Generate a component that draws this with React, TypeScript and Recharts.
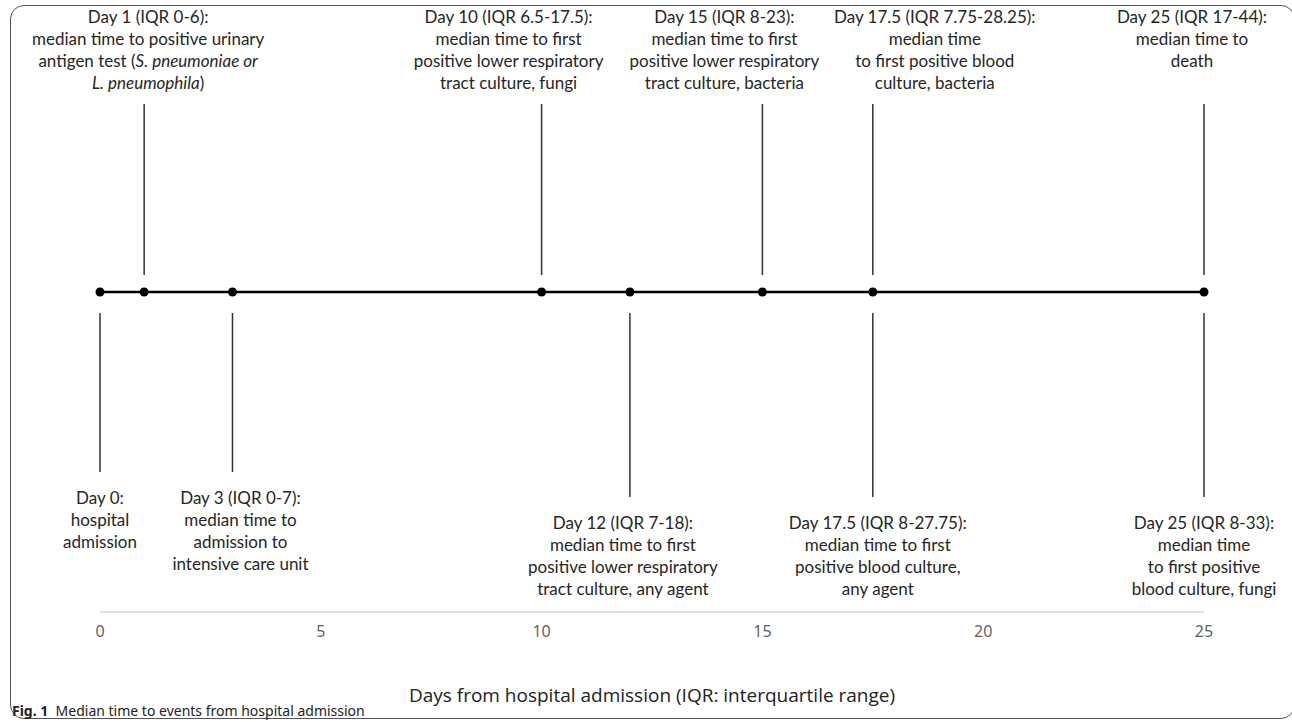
import React from 'react';
import { ScatterChart, Scatter, XAxis, YAxis } from 'recharts';

// timeline events (day from admission), which side the label sits on, and label text
// *...* marks italic text
const EVENT_DAYS = [0, 1, 3, 10, 12, 15, 17.5, 17.5, 25, 25];
const EVENT_SIDE = ['below', 'above', 'below', 'above', 'below', 'above', 'above', 'below', 'above', 'below'];
const EVENT_LABELS = [
    ['Day 0:', 'hospital', 'admission'],
    ['Day 1 (IQR 0-6):', 'median time to positive urinary', 'antigen test (*S. pneumoniae  or*', '*L.  pneumophila*)'],
    ['Day 3 (IQR 0-7):', 'median time to', 'admission to', 'intensive care unit'],
    ['Day 10 (IQR 6.5-17.5):', 'median time to first', 'positive lower respiratory', 'tract culture, fungi'],
    ['Day 12 (IQR 7-18):', 'median time to first', 'positive lower respiratory', 'tract culture, any agent'],
    ['Day 15 (IQR 8-23):', 'median time to first', 'positive lower respiratory', 'tract culture, bacteria'],
    ['Day 17.5 (IQR 7.75-28.25):', 'median time', 'to first positive blood', 'culture, bacteria'],
    ['Day 17.5 (IQR 8-27.75):', 'median time to first', 'positive blood culture,', 'any agent'],
    ['Day 25 (IQR 17-44):', 'median time to', 'death'],
    ['Day 25 (IQR 8-33):', 'median time', 'to first positive', 'blood culture, fungi'],
];
const TIMELINE_DAYS = [0, 1, 3, 10, 12, 15, 17.5, 25];
const X_TICKS = [0, 5, 10, 15, 20, 25];
const X_TITLE = 'Days from hospital admission (IQR: interquartile range)';

// layout only: label boxes placed lower / nudged sideways as in the figure
const FAR_BELOW = [false, false, false, false, true, false, false, true, false, true];
const LABEL_DX = [0, 4, 8, -33, -7, -38, 62, 5, -12, 0];

const timelineData = TIMELINE_DAYS.map((d) => ({ x: d, y: 0 }));
const eventData = EVENT_DAYS.map((d, i) => ({
    x: d,
    y: 0,
    side: EVENT_SIDE[i],
    lines: EVENT_LABELS[i],
    far: FAR_BELOW[i],
    dx: LABEL_DX[i],
}));

const LINE_H = 22;
const TEXT_COLOR = '#262626';

const renderSegments = (line: string) =>
    line.split('*').map((part, k) =>
        k % 2 === 1 ? (
            <tspan key={k} fontStyle="italic">{part}</tspan>
        ) : (
            <tspan key={k}>{part}</tspan>
        )
    );

const EventMark = (props: any) => {
    const { cx, cy, payload } = props;
    if (cx == null || cy == null) return null;
    const lines: string[] = payload.lines;
    const tx = cx + payload.dx;
    let firstY: number;
    let y1: number;
    let y2: number;
    if (payload.side === 'above') {
        firstY = cy - 276;
        y1 = cy - 17;
        y2 = cy - 188;
    } else {
        firstY = payload.far ? cy + 230 : cy + 205;
        y1 = cy + 21;
        y2 = firstY - 25;
    }
    return (
        <g>
            <line x1={cx} x2={cx} y1={y1} y2={y2} stroke="#333" strokeWidth={1.5} />
            <text
                textAnchor="middle"
                fontFamily="Lato, 'Open Sans', sans-serif"
                fontSize={17}
                fill={TEXT_COLOR}
                dominantBaseline="central"
            >
                {lines.map((ln, i) => (
                    <tspan key={i} x={tx} y={firstY + i * LINE_H}>
                        {renderSegments(ln)}
                    </tspan>
                ))}
            </text>
        </g>
    );
};

const Dot = (props: any) => {
    const { cx, cy } = props;
    if (cx == null || cy == null) return null;
    return <circle cx={cx} cy={cy} r={4.5} fill="#000" />;
};

export default function App() {
    return (
        <div style={{ position: 'absolute', left: 0, top: 0, width: 1292, height: 722, background: '#fff' }}>
            <div
                style={{
                    position: 'absolute',
                    left: 10,
                    top: 5,
                    width: 1285,
                    height: 714,
                    border: '1.5px solid #555',
                    borderRadius: 14,
                    boxSizing: 'border-box',
                }}
            />
            <div style={{ position: 'absolute', left: 0, top: 0 }}>
                <ScatterChart
                    width={1292}
                    height={722}
                    margin={{ top: 12, right: 88, bottom: 10, left: 100 }}
                >
                    <XAxis
                        type="number"
                        dataKey="x"
                        domain={[0, 25]}
                        ticks={X_TICKS}
                        height={100}
                        tickLine={false}
                        axisLine={{ stroke: '#d4d4d4', strokeWidth: 1.5 }}
                        tickMargin={8}
                        tick={{ fill: '#595959', fontSize: 16, fontFamily: "'Open Sans', sans-serif" }}
                        label={{
                            value: X_TITLE,
                            position: 'insideBottom',
                            offset: 10,
                            fill: '#222',
                            fontSize: 19,
                            fontFamily: "'Open Sans', sans-serif",
                        }}
                    />
                    <YAxis type="number" dataKey="y" domain={[-8, 7]} hide />
                    <Scatter
                        data={timelineData}
                        line={{ stroke: '#000', strokeWidth: 2.5 }}
                        lineType="joint"
                        shape={<Dot />}
                        isAnimationActive={false}
                    />
                    <Scatter data={eventData} shape={<EventMark />} isAnimationActive={false} />
                </ScatterChart>
            </div>
            <div
                style={{
                    position: 'absolute',
                    left: 12,
                    top: 702,
                    fontFamily: "'Noto Sans', sans-serif",
                    fontSize: 14,
                    lineHeight: '18px',
                    color: '#222',
                    whiteSpace: 'nowrap',
                }}
            >
                <b>Fig. 1</b>&nbsp;&nbsp;Median time to events from hospital admission
            </div>
        </div>
    );
}
